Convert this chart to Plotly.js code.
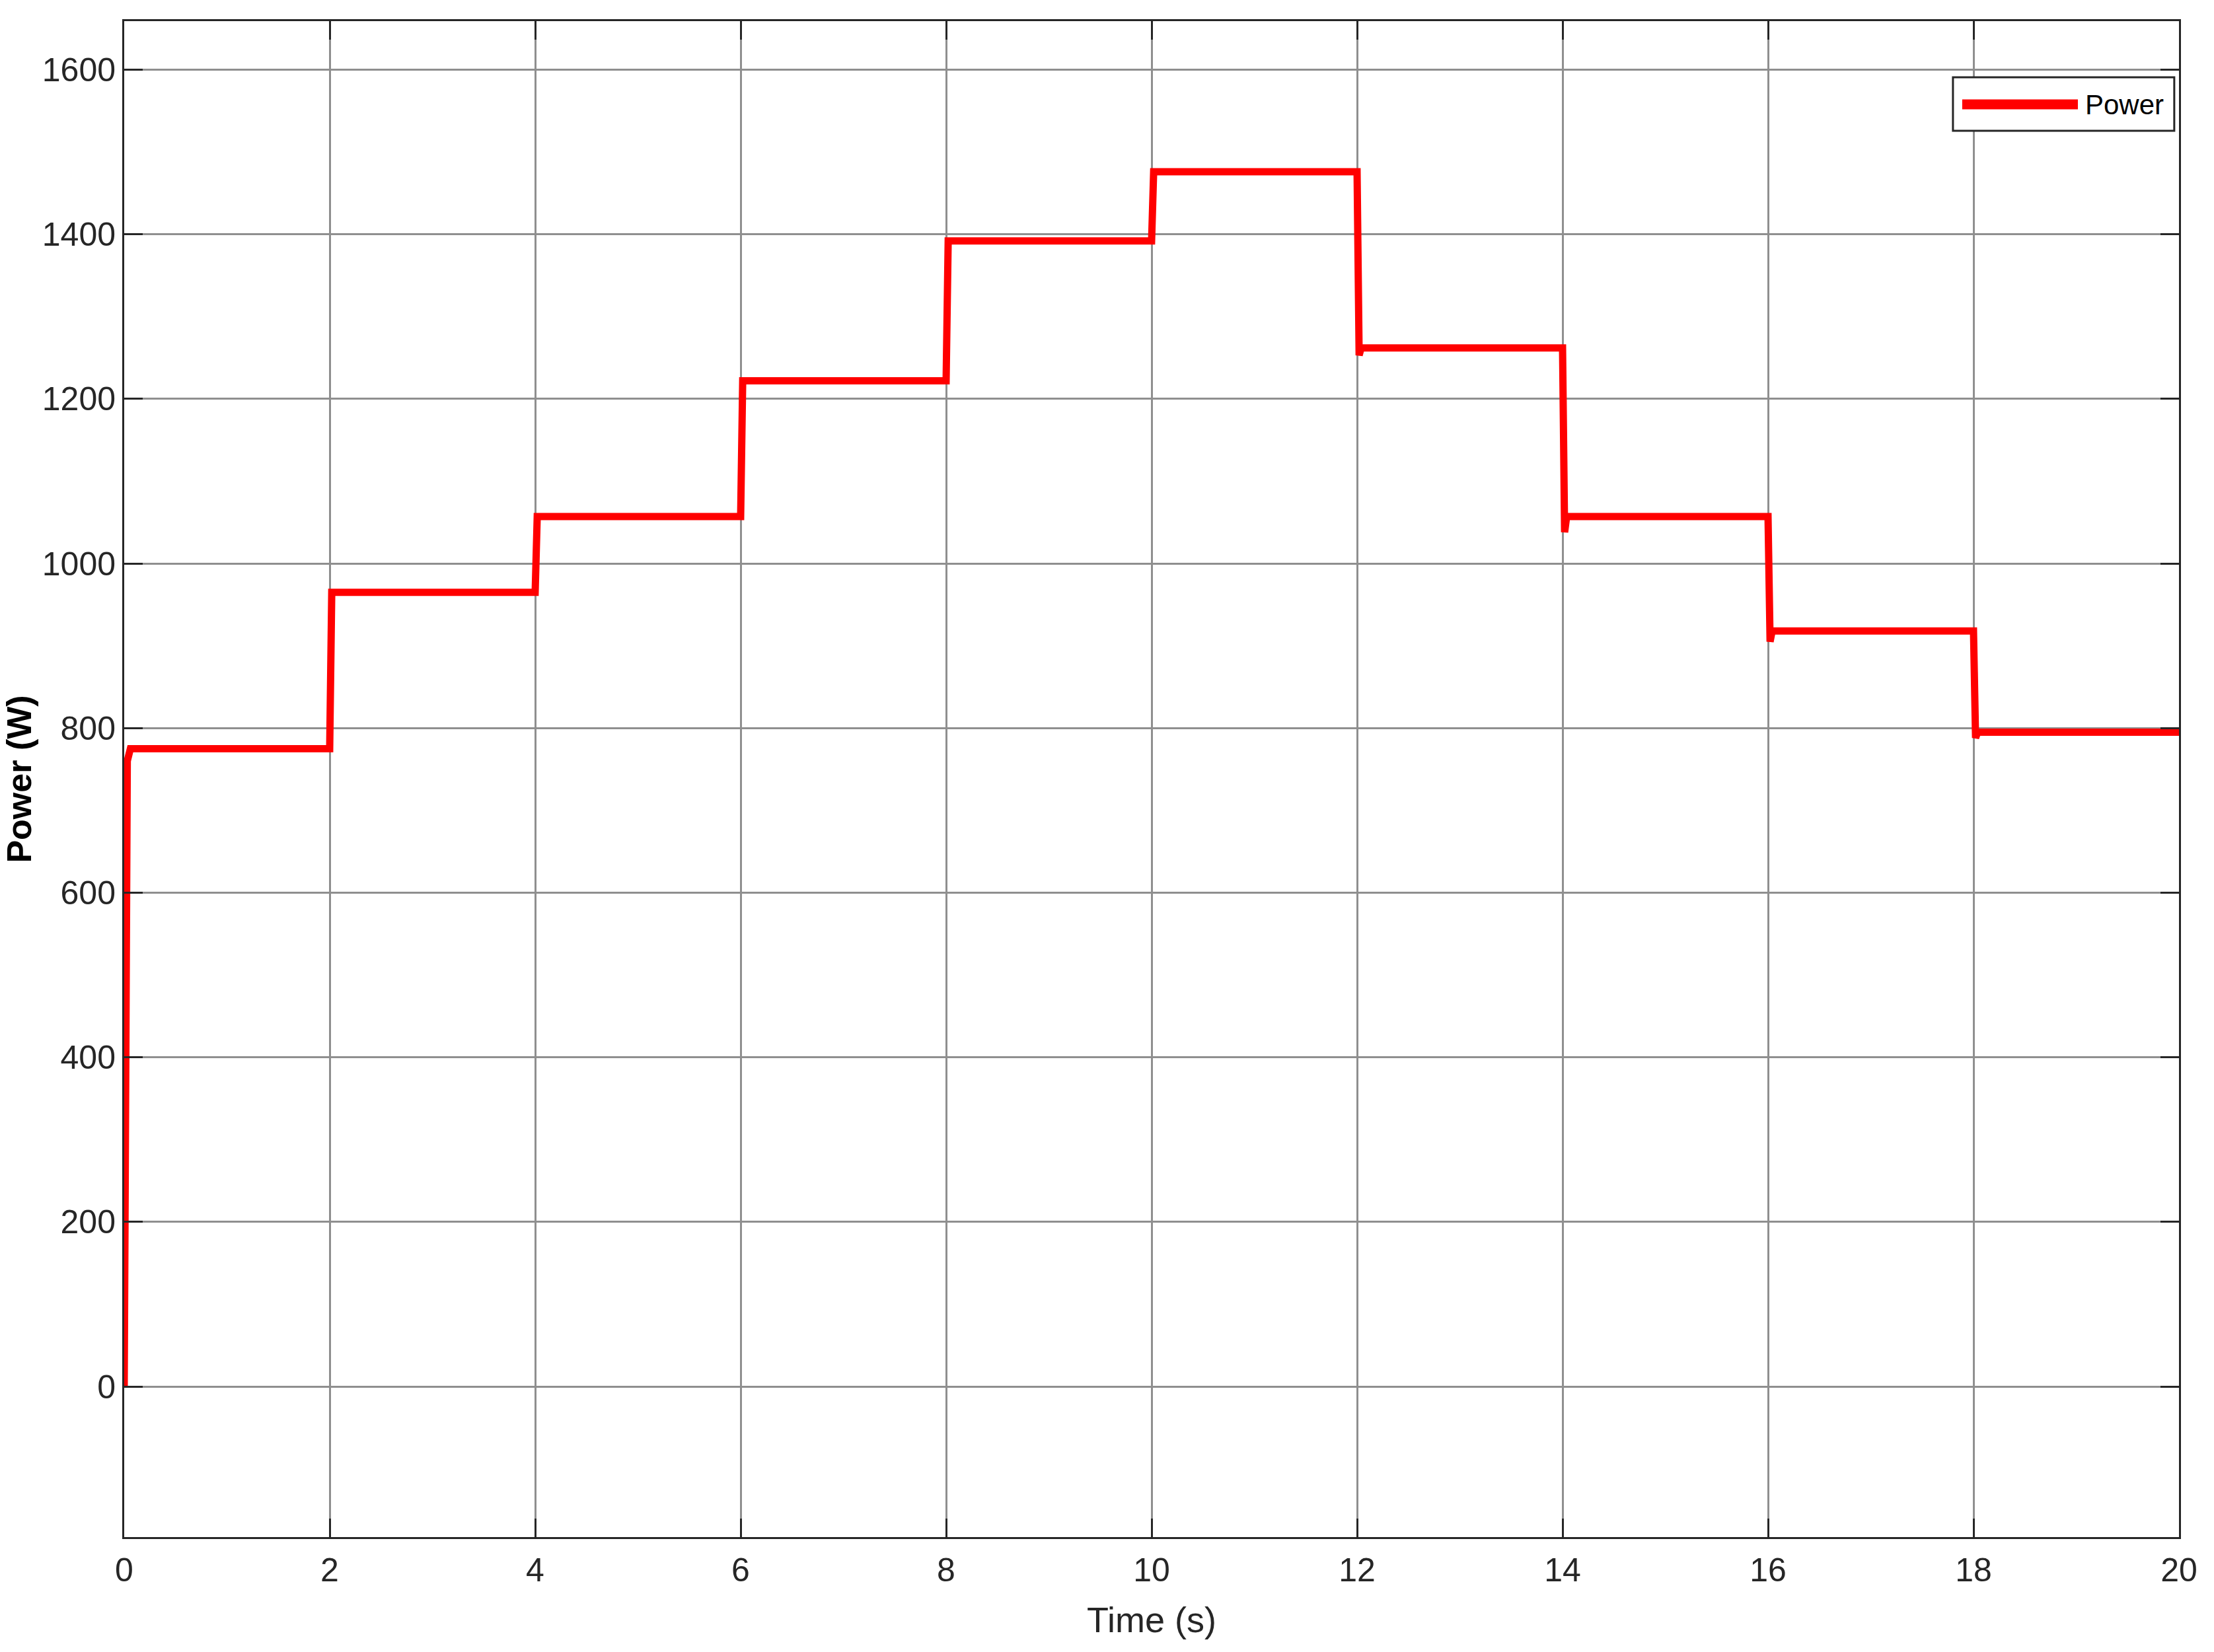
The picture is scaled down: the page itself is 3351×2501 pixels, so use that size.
<!DOCTYPE html>
<html>
<head>
<meta charset="utf-8">
<script src="https://cdn.plot.ly/plotly-3.0.1.min.js"></script>
<style>
  html, body { margin: 0; padding: 0; background: #ffffff; }
  #powerChart { width: 3351px; height: 2501px; }
</style>
</head>
<body>
<div id="powerChart"></div>
<script>
var timeAxis = [0, 0.01, 0.03, 0.06, 2.0, 2.02, 4.0, 4.02, 6.0, 6.02, 8.0, 8.02,
                10.0, 10.02, 12.0, 12.02, 12.04, 14.0, 14.02, 14.04, 16.0, 16.02,
                16.04, 18.0, 18.02, 18.04, 20];
var powerValues = [0, 600, 760, 775, 775, 965, 965, 1057, 1057, 1222, 1222, 1392,
                   1392, 1476, 1476, 1253, 1262, 1262, 1038, 1057, 1057, 905,
                   918, 918, 788, 795, 795];

var xTicks = [0, 2, 4, 6, 8, 10, 12, 14, 16, 18, 20];
var yTicks = [0, 200, 400, 600, 800, 1000, 1200, 1400, 1600];
var seriesName = "Power";

var textColor = "#262626";

var trace1 = {
    x: timeAxis,
    y: powerValues,
    type: "scatter",
    mode: "lines",
    name: seriesName,
    line: { color: "#ff0000", width: 11 },
    showlegend: false
};

var layout = {
    width: 3351,
    height: 2501,
    paper_bgcolor: "#ffffff",
    plot_bgcolor: "#ffffff",
    margin: { l: 188, r: 53, t: 32, b: 174 },
    font: { family: "Liberation Sans, Arial, sans-serif", size: 50, color: textColor },
    xaxis: {
        range: [0, 20],
        tickvals: xTicks,
        ticktext: xTicks.map(String),
        ticks: "inside",
        ticklen: 28,
        tickwidth: 3,
        tickcolor: textColor,
        ticklabelstandoff: 4,
        showline: true,
        linewidth: 3,
        linecolor: textColor,
        mirror: "ticks",
        showgrid: true,
        gridcolor: "#8f8f8f",
        gridwidth: 3,
        zeroline: false,
        automargin: false,
        title: { text: "Time (s)", font: { size: 54, color: textColor }, standoff: 30 }
    },
    yaxis: {
        range: [-183, 1659],
        tickvals: yTicks,
        ticktext: yTicks.map(String),
        ticks: "inside",
        ticklen: 28,
        tickwidth: 3,
        tickcolor: textColor,
        ticklabelstandoff: 0,
        showline: true,
        linewidth: 3,
        linecolor: textColor,
        mirror: "ticks",
        showgrid: true,
        gridcolor: "#8f8f8f",
        gridwidth: 3,
        zeroline: false,
        automargin: false,
        title: {
            text: "<b>Power (W)</b>",
            font: { size: 52, color: "#000000" },
            standoff: 2
        }
    },
    // legend box drawn like the MATLAB one (long line sample)
    shapes: [
        {
            type: "rect", xref: "paper", yref: "paper",
            x0: 0.8900, x1: 0.9977, y0: 0.9277, y1: 0.9630,
            line: { color: textColor, width: 3 },
            fillcolor: "#ffffff",
            layer: "above"
        },
        {
            type: "line", xref: "paper", yref: "paper",
            x0: 0.8945, x1: 0.9508, y0: 0.9451, y1: 0.9451,
            line: { color: "#ff0000", width: 15 },
            layer: "above"
        }
    ],
    annotations: [
        {
            xref: "paper", yref: "paper",
            x: 0.9537, y: 0.9447,
            xanchor: "left", yanchor: "middle",
            text: seriesName,
            showarrow: false,
            font: { size: 42, color: "#000000" }
        }
    ]
};

Plotly.newPlot("powerChart", [trace1], layout, { staticPlot: true, displayModeBar: false });
</script>
</body>
</html>
